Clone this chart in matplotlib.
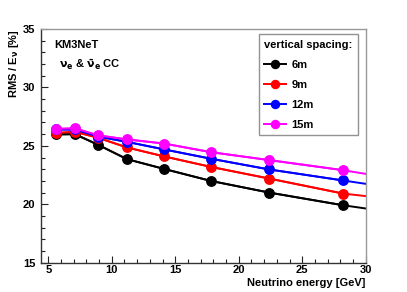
import matplotlib
matplotlib.use("Agg")
import matplotlib.pyplot as plt
from matplotlib.ticker import MultipleLocator

# bin centres (GeV) and RMS/E values (%)
energy = [5.6, 7.1, 8.9, 11.2, 14.1, 17.8, 22.4, 28.2]
rms_6m = [25.98, 26.0, 25.1, 23.86, 23.03, 22.0, 21.0, 19.92]
rms_9m = [26.1, 26.2, 25.7, 24.86, 24.1, 23.2, 22.2, 20.92]
rms_12m = [26.4, 26.4, 25.8, 25.34, 24.7, 23.9, 22.98, 22.04]
rms_15m = [26.45, 26.5, 25.9, 25.55, 25.2, 24.46, 23.78, 22.92]
# last segment continues to the edge at 30 GeV
edge_x = 30.0
edge_y = [19.64, 20.7, 21.75, 22.6]

labels = ["6m", "9m", "12m", "15m"]
colors = ["black", "red", "blue", "magenta"]

plt.rcParams["font.family"] = ["Liberation Sans", "DejaVu Sans"]
plt.rcParams["font.weight"] = "bold"
plt.rcParams["mathtext.default"] = "bf"

fs = 8.0
fig = plt.figure(figsize=(4.07, 2.92), dpi=100)
W, H = 407, 292
ax = fig.add_axes([40.7 / W, 1 - 262.7 / H, (365.7 - 40.7) / W, (262.7 - 29) / H])

series = [rms_6m, rms_9m, rms_12m, rms_15m]
handles = []
for ys, ye, lab, c in zip(series, edge_y, labels, colors):
    ax.plot(energy + [edge_x], ys + [ye], color=c, lw=1.4, zorder=2)
    h, = ax.plot(energy, ys, "o", color=c, ms=6.8, lw=1.4, ls="-", zorder=3, label=lab)
    handles.append(h)

ax.set_xlim(4.4, 30)
ax.set_ylim(15, 35)
ax.xaxis.set_major_locator(MultipleLocator(5))
ax.xaxis.set_minor_locator(MultipleLocator(1))
ax.yaxis.set_major_locator(MultipleLocator(5))
ax.yaxis.set_minor_locator(MultipleLocator(1))
ax.tick_params(which="both", direction="in", top=False, right=False,
               labelsize=fs, colors="#222222", width=0.8)
ax.tick_params(which="major", length=5)
ax.tick_params(which="minor", length=2.6)
ax.tick_params(axis="x", pad=2)
ax.tick_params(axis="y", pad=4)
for lbl in ax.get_xticklabels() + ax.get_yticklabels():
    lbl.set_fontweight("bold")
    lbl.set_color("black")

ax.spines["left"].set_color("#333333")
ax.spines["bottom"].set_color("#333333")
ax.spines["top"].set_color("#999999")
ax.spines["right"].set_color("#999999")
for s in ax.spines.values():
    s.set_linewidth(1.0)

ax.set_xlabel("Neutrino energy [GeV]", fontsize=fs, fontweight="bold")
ax.xaxis.set_label_coords(1.0, -0.065)
ax.xaxis.label.set_ha("right")
ax.set_ylabel(r"RMS / E$_\nu$ [%]", fontsize=fs, fontweight="bold")
ax.yaxis.set_label_coords(-0.105, 1.0)
ax.yaxis.label.set_va("top")
ax.yaxis.label.set_ha("right")

ax.text(0.043, 0.93, "KM3NeT", transform=ax.transAxes, fontsize=fs,
        fontweight="bold", va="center")
ax.text(0.055, 0.845, r"$\nu_e$ & $\bar{\nu}_e$ CC", transform=ax.transAxes,
        fontsize=fs, fontweight="bold", va="center")

leg = ax.legend(handles=handles, title="vertical spacing:", loc="upper right",
                bbox_to_anchor=(358 / W, 1 - 34.3 / H), bbox_transform=fig.transFigure,
                fontsize=fs, title_fontsize=fs, frameon=True, fancybox=False,
                edgecolor="#777777", handlelength=2.0, handletextpad=0.45,
                labelspacing=0.9, borderpad=0.5, borderaxespad=0,
                markerscale=0.85)
leg.get_frame().set_linewidth(1.0)
leg.get_title().set_fontweight("bold")
leg._legend_box.align = "left"
for t in leg.get_texts():
    t.set_fontweight("bold")

fig.savefig("out.png", dpi=100)
